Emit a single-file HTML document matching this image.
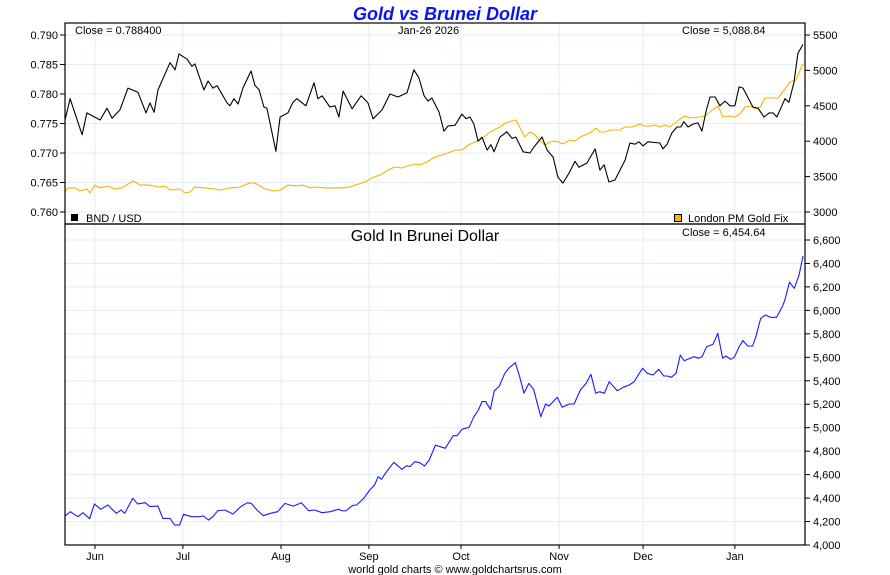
<!DOCTYPE html>
<html><head><meta charset="utf-8"><style>
html,body{margin:0;padding:0;background:#fff;}
svg{display:block;font-family:"Liberation Sans",Arial,sans-serif;}
</style></head><body>
<svg id="chart" width="890" height="575" viewBox="0 0 890 575" xmlns="http://www.w3.org/2000/svg">
<text x="445" y="20" text-anchor="middle" font-size="18" font-weight="bold" font-style="italic" fill="#0a14ee">Gold vs Brunei Dollar</text>
<g id="grid"></g>
<g id="marks"></g>
<g id="axes"></g>
<text x="75" y="34" font-size="11">Close = 0.788400</text>
<text x="398" y="34" font-size="11">Jan-26  2026</text>
<text x="682" y="34" font-size="11">Close = 5,088.84</text>
<rect x="71" y="214" width="7" height="7" fill="#000"/>
<text x="86" y="222" font-size="11">BND / USD</text>
<rect x="674.5" y="214.5" width="7" height="7" fill="#f5b400" stroke="#000" stroke-width="1"/>
<text x="688" y="222" font-size="11">London PM Gold Fix</text>
<text x="425" y="241" text-anchor="middle" font-size="16">Gold In Brunei Dollar</text>
<text x="682" y="236" font-size="11">Close = 6,454.64</text>
<text x="455" y="573" text-anchor="middle" font-size="11">world gold charts © www.goldchartsrus.com</text>
</svg>
<script>
const monthLabels=["Jun","Jul","Aug","Sep","Oct","Nov","Dec","Jan"];
const monthDays=[10,39.3,72,101.3,132,164.7,192.7,223.3];
const bndTicks=[0.760,0.765,0.770,0.775,0.780,0.785,0.790];
const goldUsdTicks=[3000,3500,4000,4500,5000,5500];
const goldBndTicks=[4000,4200,4400,4600,4800,5000,5200,5400,5600,5800,6000,6200,6400,6600];
const bndDays=[0,1.7,5.7,7.3,11.7,14,15.7,18.3,21,24.3,27,28.3,29.7,31,35,36.7,38,40.7,42.3,43.3,46.3,47.7,49.3,50.7,54,55,56.3,57.7,59.3,62,63.3,64.7,66.3,67.3,70.3,71.7,74.3,76,77.3,80.3,83,84.3,85.7,88.3,90,91.3,92.7,95.7,98.7,101,102.7,105.7,108.3,111,114,116.3,118,119.7,121,122.3,124.7,126.3,127.7,130,132.3,133.7,135,136.3,137.7,139,140.7,142,143,145,147.3,149,150.3,152.7,155,156.3,159,160.7,162.7,164.3,166,168,170,171.3,174,176.7,178.3,179.7,181.3,183.3,186.7,188.3,190,191.3,192.7,194.3,198.3,199.3,200.7,202.3,204,205.3,206.3,207.7,209.3,211,212.3,213.7,215,216.7,218.3,220,221.7,223.3,224.7,226,229.3,231,233,234.7,236,237.3,240,241.3,243,244.3,246];
const bndVals=[.7756,.7792,.7731,.7768,.7756,.7776,.7759,.7773,.7810,.7803,.7768,.7785,.7769,.7807,.7853,.7841,.7868,.7859,.7847,.7851,.7807,.7822,.7810,.7814,.7785,.7780,.7792,.7783,.7810,.7839,.7815,.7807,.7778,.7776,.7703,.7761,.7768,.7786,.7792,.7780,.7819,.7792,.7797,.7778,.7780,.7761,.7805,.7775,.7797,.7785,.7758,.7773,.7800,.7795,.7802,.7841,.7827,.7797,.7788,.7793,.7769,.7737,.7746,.7747,.7766,.7758,.7761,.7749,.7720,.7727,.7705,.7714,.7702,.7727,.7736,.7725,.7727,.7702,.7700,.7710,.7727,.7705,.7693,.7659,.7649,.7666,.7686,.7676,.7683,.7707,.7671,.7680,.7651,.7654,.7688,.7717,.7715,.7719,.7712,.7719,.7717,.7707,.7715,.7734,.7744,.7744,.7753,.7744,.7749,.7751,.7737,.7771,.7795,.7795,.7780,.7788,.7780,.7780,.7812,.7810,.7778,.7776,.7761,.7768,.7768,.7761,.7792,.7786,.7820,.7869,.7884];
const goldUsdDays=[0,1,3.3,5,7.3,8.3,10,11.7,14.3,16.7,19,22.7,25,28.3,31,33.3,35,38.3,40,41.7,43.3,46.7,50,51.7,55,58.3,61.7,63.3,66.7,70,71.7,74.3,77.7,79.3,81.7,83.3,86.7,91.7,95,96.7,100,102.3,105,108.3,110,112.3,114.3,116.7,118.3,120.7,123.3,125.7,127.7,130,132.3,135,137.7,139.3,141.7,143,145,147,149,150.3,151.7,153.3,155,156.7,158.3,160,161.7,163.7,166,168.3,170,171.7,175,177,178.3,180,181.7,185,186.7,189,191.7,193,195,196.7,198.3,200,201.7,205,206.7,208.3,211.7,213.3,215,216.7,217.7,219.3,221.7,223.3,225,226.7,228.3,230.3,231.7,233.3,235,237.7,240,241.7,243.7,246];
const goldUsdVals=[3282,3340,3340,3297,3325,3268,3380,3340,3367,3325,3340,3438,3380,3380,3353,3367,3310,3325,3268,3282,3353,3340,3325,3310,3340,3353,3410,3410,3325,3297,3310,3380,3367,3380,3340,3353,3340,3340,3353,3380,3424,3480,3523,3607,3636,3622,3650,3678,3664,3706,3777,3805,3833,3876,3876,3960,4003,4045,4130,4158,4200,4257,4285,4300,4186,4060,4130,4088,4003,3947,3989,4003,3960,4017,4003,4060,4116,4186,4130,4130,4158,4158,4200,4200,4243,4215,4215,4229,4200,4229,4200,4314,4356,4328,4342,4356,4412,4469,4497,4342,4356,4342,4384,4483,4497,4455,4483,4610,4610,4610,4737,4836,4864,5100];
const goldBndDays=[0,1.8,4.3,6,8.2,9.8,11.9,14.3,17.1,18.7,19.9,22.6,24.2,26.7,28.3,31,32.6,35,36.6,38.2,39.5,42.2,44.6,46.2,47.8,49.3,50.9,53.3,56,58.6,60.8,62.1,64,66.1,68.5,70.9,73.3,76.1,78.8,81.2,83.2,85.7,88.4,91.1,92.7,93.7,95.9,97.2,99.6,101.6,103.2,104.4,105.5,106.8,109.6,112.3,113.9,115,116.6,118.2,119.8,121.4,123.5,125.1,126.7,127.8,129.4,130.7,132.3,134.7,136.2,137.8,139,140.2,141.8,143.1,144.7,146.6,147.9,150.1,151.4,153,154.6,156.2,158.6,160.2,161.3,164.1,165.7,168.1,169.7,171.8,173.7,175.3,176.9,178.2,179.8,181.4,184.1,186.1,188.1,189.7,192.5,194.1,196,197.9,199.6,200.8,202.1,203.7,205.1,206.4,209.6,211.2,212.3,213.9,216,217.6,219.2,220.3,221.9,223.1,224.7,226,227.6,229.2,230.3,231.9,233.5,235.1,237.2,239.1,239.9,241.5,243.1,244.7,246];
const goldBndVals=[4247,4284,4241,4275,4224,4350,4304,4341,4270,4298,4270,4398,4350,4361,4327,4332,4227,4227,4170,4170,4262,4241,4241,4247,4213,4241,4292,4298,4264,4327,4361,4355,4298,4250,4270,4284,4355,4332,4361,4292,4298,4275,4284,4304,4290,4292,4338,4341,4398,4469,4512,4582,4560,4611,4705,4645,4676,4668,4710,4702,4673,4725,4852,4838,4824,4867,4932,4932,4986,5003,5089,5151,5222,5222,5157,5315,5350,5464,5506,5554,5449,5293,5378,5327,5094,5202,5185,5259,5174,5202,5202,5321,5378,5455,5293,5307,5293,5392,5315,5344,5364,5392,5506,5464,5449,5498,5441,5441,5430,5464,5620,5571,5605,5592,5605,5690,5711,5805,5592,5611,5583,5600,5690,5742,5696,5696,5776,5932,5961,5941,5941,6032,6083,6240,6188,6302,6464];

const NS="http://www.w3.org/2000/svg";
const L=65,R=805,T1=23,B1=224,T2=224,B2=545;
const xS=d=>L+(d/246.67)*(R-L);
const yBnd=v=>212+(0.760-v)/0.030*177;
const yGold=v=>212-(v-3000)/2500*177;
const yGB=v=>545-(v-4000)/2600*305;
function mk(parent,tag,attrs){const e=document.createElementNS(NS,tag);for(const k in attrs)e.setAttribute(k,attrs[k]);document.getElementById(parent).appendChild(e);return e;}
// grid
monthDays.forEach((d,i)=>{
  const x=xS(d);
  const g1=mk('grid','line',{x1:x,x2:x,y1:T1,y2:B1,stroke:'#dfeefa','stroke-width':1});
  
  
  const g2=mk('grid','line',{x1:x,x2:x,y1:T2,y2:B2,stroke:'#dfeefa','stroke-width':1});
  
  
  const tk=mk('axes','line',{x1:x,x2:x,y1:B2,y2:B2+4,stroke:'#000'});
  
  
  const t=mk('axes','text',{x:x,y:560,'text-anchor':'middle','font-size':11});
  
  
  t.textContent=monthLabels[i];
});
bndTicks.forEach(v=>{
  const y=yBnd(v);
  const g=mk('grid','line',{x1:L,x2:R,y1:y,y2:y,stroke:'#dfeefa'});
  
  
  const tk=mk('axes','line',{x1:L-5,x2:L,y1:y,y2:y,stroke:'#000'});
  
  
  const t=mk('axes','text',{x:L-7,y:y+4,'text-anchor':'end','font-size':11});
  
  
  t.textContent=v.toFixed(3);
});
goldUsdTicks.forEach(v=>{
  const y=yGold(v);
  const tk=mk('axes','line',{x1:R,x2:R+5,y1:y,y2:y,stroke:'#000'});
  
  
  const t=mk('axes','text',{x:R+8,y:y+4,'font-size':11});
  
  
  t.textContent=v;
});
goldBndTicks.forEach(v=>{
  const y=yGB(v);
  const g=mk('grid','line',{x1:L,x2:R,y1:y,y2:y,stroke:'#dfeefa'});
  
  
  const tk=mk('axes','line',{x1:R,x2:R+5,y1:y,y2:y,stroke:'#000'});
  
  
  const t=mk('axes','text',{x:R+8,y:y+4,'font-size':11});
  
  
  t.textContent=v.toLocaleString('en-US');
});
function line(days,vals,ys,color,name){
  const pts=days.map((d,i)=>xS(d).toFixed(1)+','+ys(vals[i]).toFixed(1)).join(' ');
  const p=mk('marks','polyline',{points:pts,fill:'none',stroke:color,'stroke-width':1.1,'stroke-linejoin':'round'});
  
  
}
line(goldUsdDays,goldUsdVals,yGold,'#f5b400','gold-usd-line');
line(bndDays,bndVals,yBnd,'#000','bnd-usd-line');
line(goldBndDays,goldBndVals,yGB,'#1a1aff','gold-in-bnd-line');
const f1=mk('axes','rect',{x:L,y:T1,width:R-L,height:B1-T1,fill:'none',stroke:'#000','stroke-width':1.2});


const f2=mk('axes','rect',{x:L,y:T2,width:R-L,height:B2-T2,fill:'none',stroke:'#000','stroke-width':1.2});


</script>
</body></html>
